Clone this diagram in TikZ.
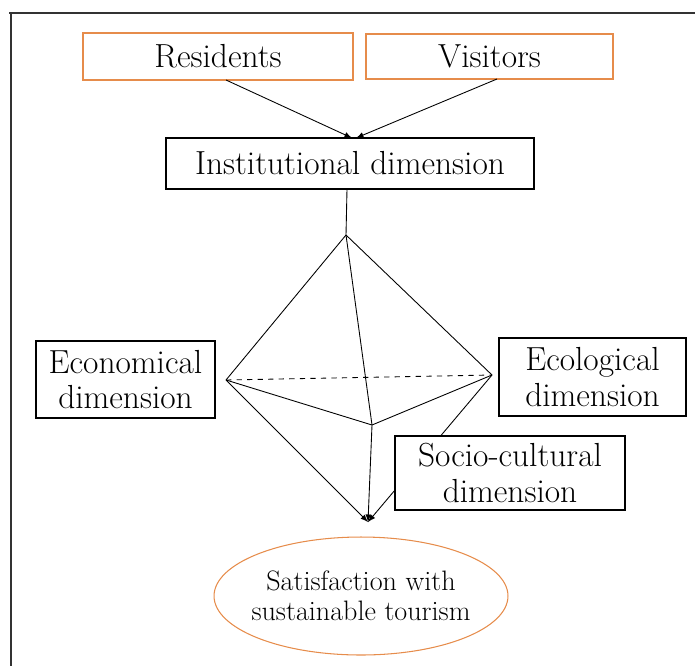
\documentclass[tikz,border=0pt]{standalone}
\usepackage{xcolor}
\usepackage{tikz}
\usetikzlibrary{positioning,arrows,shapes.geometric}

\definecolor{boxorange}{RGB}{230,140,75}

\tikzset{
  dimbox/.style={draw,line width=0.7pt,fill=white,align=center,inner sep=0pt,outer sep=0pt,
    font=\fontsize{19}{20}\selectfont},
  groupbox/.style={dimbox,draw=boxorange},
  edge/.style={line width=0.5pt},
  arrow/.style={edge,-latex}
}

\begin{document}
\begin{tikzpicture}[x=0.02cm,y=-0.02cm]

  \useasboundingbox (0,0) rectangle (695,666);

  % Frame
  \draw [line width=1pt,black!80] (9,13) -- (695,13);
  \draw [line width=1pt,black!80] (11,13) -- (11,666);

  % Groups
  \node [groupbox,minimum width=5.4cm,minimum height=0.94cm] (res) at (218,56.5) {Residents};
  \node [groupbox,minimum width=4.94cm,minimum height=0.9cm] (vis) at (489.5,56.5) {Visitors};

  % Institutional dimension
  \node [dimbox,minimum width=7.36cm,minimum height=1.02cm] (inst) at (350,163.5) {Institutional dimension};
  \draw [arrow] ([xshift=0.16cm]res.south) -- ([xshift=0.04cm]inst.north);
  \draw [arrow] ([xshift=0.15cm]vis.south) -- ([xshift=0.12cm]inst.north);

  % Corners of the solid
  \coordinate (top) at (346,235);
  \coordinate (left) at (226,380);
  \coordinate (right) at (492,375);
  \coordinate (front) at (372,425);
  \coordinate (bottom) at (368,522);

  \draw [edge] ([xshift=-0.06cm]inst.south) -- (top);

  % Upper half
  \draw [edge] (top) -- (left);
  \draw [edge] (top) -- (right);
  \draw [edge] (top) -- (front);
  \draw [edge] (left) -- (front) -- (right);
  \draw [edge,dashed] (left) -- (right);

  % Lower half
  \draw [arrow] (left) -- (bottom);
  \draw [arrow] (front) -- (bottom);
  \draw [arrow] (right) -- (bottom);

  % Dimensions
  \node [dimbox,minimum width=3.58cm,minimum height=1.54cm] (econ) at (125.5,379.5) {Economical\\dimension};
  \node [dimbox,minimum width=3.74cm,minimum height=1.56cm] (ecol) at (592.5,377) {Ecological\\dimension};
  \node [dimbox,minimum width=4.6cm,minimum height=1.48cm] (socio) at (510,473) {Socio-cultural\\dimension};

  % Outcome
  \node [ellipse,draw=boxorange,line width=0.6pt,align=center,inner xsep=-0.15cm,inner ysep=0pt,
    minimum width=5.88cm,minimum height=2.36cm,font=\fontsize{16}{17}\selectfont] (sat) at (361,596)
    {Satisfaction with\\sustainable tourism};

\end{tikzpicture}
\end{document}
